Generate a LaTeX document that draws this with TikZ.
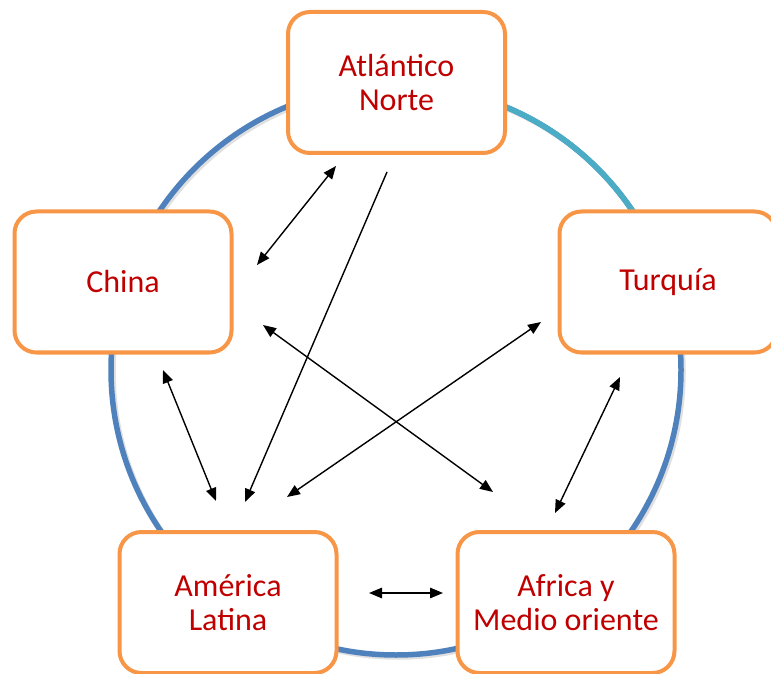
\documentclass[tikz,border=0pt]{standalone}
\usepackage{fontspec}
\setmainfont{Carlito}
\usetikzlibrary{arrows.meta}
\definecolor{boxorange}{HTML}{F79646}
\definecolor{ringblue}{HTML}{4F81BD}
\definecolor{ringcyan}{HTML}{4BACC6}
\definecolor{labelred}{HTML}{C00000}
\begin{document}
\begin{tikzpicture}[x=1pt, y=1pt,
	region/.style={draw=boxorange, fill=white, line width=4pt, rounded corners=22pt,
		minimum width=217pt, minimum height=141pt, inner sep=0pt, align=center,
		text=labelred, font=\fontsize{32}{34}\selectfont},
	link/.style={line width=1.4pt, black},
	tip/.tip={Triangle[length=13pt, width=10.5pt]}]
	\useasboundingbox (0,0) rectangle (771,673);

	\coordinate[](o) at (396,303);

	%% Ring
	\draw[line width=5.5pt, black, opacity=0.12] ([shift={(2,-2)}]o) circle (285);
	\draw[line width=5.5pt, ringblue] (o) circle (285);
	\draw[line width=5.5pt, ringcyan] ([shift={(30:285)}]o) arc (30:70:285);

	%% Regions
	\node[region](atl) at (396.5,590.5) {Atlántico\\Norte};
	\node[region](chn) at (123,391) {China};
	\node[region](tur) at (668,391) {Turquía};
	\node[region](lat) at (228,70.5) {América\\Latina};
	\node[region](afr) at (566,70.5) {Africa y\\Medio oriente};

	%% Arrow ends
	\coordinate[](ca) at (257,408);
	\coordinate[](ac) at (336,507);
	\coordinate[](al) at (387,501);
	\coordinate[](la) at (245,171);
	\coordinate[](cf) at (263,348);
	\coordinate[](fc) at (493,181);
	\coordinate[](tl) at (541,351);
	\coordinate[](lt) at (287,176);
	\coordinate[](cl) at (163,303);
	\coordinate[](lc) at (216,172);
	\coordinate[](tf) at (620,296);
	\coordinate[](ft) at (555,160);
	\coordinate[](lf) at (369,80);
	\coordinate[](fl) at (443,80);

	%% Links
	\draw[link, tip-tip] (ca) -- (ac);
	\draw[link, -tip] (al) -- (la);
	\draw[link, tip-tip] (cf) -- (fc);
	\draw[link, tip-tip] (tl) -- (lt);
	\draw[link, tip-tip] (cl) -- (lc);
	\draw[link, tip-tip] (tf) -- (ft);
	\draw[link, tip-tip] (lf) -- (fl);

\end{tikzpicture}
\end{document}
